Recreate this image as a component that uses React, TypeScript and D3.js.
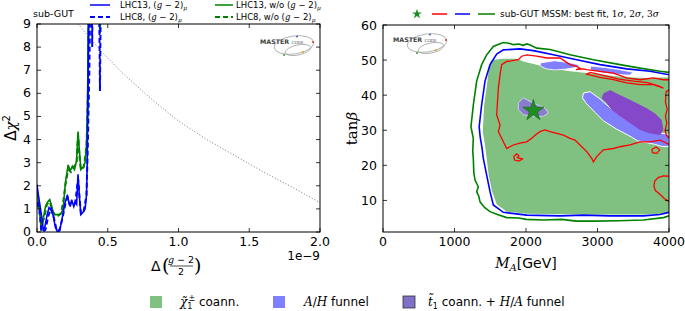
import React from 'react';
import * as d3 from 'd3';

type P = [number, number];

// ---------- Left panel data (x in units of 1e-9) ----------
const leftXTicks = [0, 0.5, 1.0, 1.5, 2.0];
const leftYTicks = [0, 1, 2, 3, 4, 5, 6, 7, 8, 9];

const lhc13G2: P[] = [[0,2.05],[0.01,1.6],[0.02,1.2],[0.035,0.6],[0.045,0.05],[0.055,0.2],[0.07,0.7],[0.085,1.05],[0.1,0.95],[0.115,0.7],[0.13,0.2],[0.145,0.0],[0.16,0.05],[0.175,0.5],[0.19,1.0],[0.2,1.3],[0.215,1.6],[0.225,1.3],[0.235,1.1],[0.245,1.4],[0.26,1.1],[0.27,1.3],[0.28,1.2],[0.29,2.5],[0.3,1.5],[0.31,0.75],[0.325,0.85],[0.34,1.0],[0.35,1.6],[0.355,3],[0.36,6],[0.365,9.6]];
const lhc8G2: P[] = [[0,1.3],[0.015,1.1],[0.03,0.1],[0.04,0.0],[0.06,0.1],[0.08,0.7],[0.1,1.0],[0.12,0.6],[0.14,0.05],[0.16,0.1],[0.18,0.6],[0.2,1.2],[0.215,1.5],[0.23,1.2],[0.25,1.3],[0.27,1.25],[0.29,2.3],[0.31,0.8],[0.33,0.9],[0.35,1.6],[0.36,4],[0.37,7],[0.375,9.6],[0.388,9.6],[0.39,8.0],[0.392,9.6],[0.44,9.6],[0.445,6.1],[0.45,9.6]];
const lhc13NoG2: P[] = [[0,1.8],[0.01,1.3],[0.02,0.9],[0.03,0.05],[0.045,0.6],[0.06,1.1],[0.075,1.3],[0.09,1.4],[0.1,1.2],[0.115,0.85],[0.13,0.75],[0.15,0.75],[0.17,0.8],[0.185,1.0],[0.2,2.1],[0.21,2.5],[0.22,2.9],[0.235,2.65],[0.25,2.85],[0.265,2.7],[0.28,3.1],[0.29,4.35],[0.3,3.5],[0.31,2.7],[0.325,2.8],[0.34,3.0],[0.35,3.8],[0.355,5],[0.36,7],[0.363,9.6]];
const lhc8NoG2: P[] = [[0,1.2],[0.015,1.0],[0.03,0.3],[0.05,0.6],[0.07,1.2],[0.09,1.3],[0.11,0.9],[0.13,0.7],[0.15,0.7],[0.17,0.8],[0.19,1.5],[0.2,2.0],[0.22,2.7],[0.24,2.6],[0.26,2.8],[0.28,3.0],[0.29,4.2],[0.3,3.3],[0.31,2.7],[0.33,2.8],[0.35,3.7],[0.36,6],[0.365,9.6],[0.44,9.6],[0.445,8.6],[0.45,9.6]];
const dottedRef: P[] = [[0.29,9.0],[0.45,7.85],[0.6,6.9],[0.8,5.8],[1.0,4.8],[1.2,4.0],[1.4,3.3],[1.6,2.6],[1.8,1.95],[2.0,1.27]];

// ---------- Right panel data (M_A [GeV], tan beta) ----------
const rightXTicks = [0, 1000, 2000, 3000, 4000];
const rightYTicks = [10, 20, 30, 40, 50, 60];

const greenFill: P[] = [[1500,49.3],[1543,50.1],[1683,50.4],[1870,50.4],[1963,49.6],[2150,48.7],[2336,47.7],[2616,46.8],[2849,46.3],[3129,45.7],[3408,45.1],[3688,44.9],[4000,45.1],[4000,6.5],[3922,6.2],[3640,6.0],[2942,6.0],[2010,6.2],[1730,6.8],[1590,8.9],[1525,12.6],[1478,17.2],[1450,22],[1420,26.7],[1395,29.5],[1415,37.3],[1460,44],[1480,47.5]];
const ahTopA: P[] = [[2200,49.2],[2400,49.8],[2600,49.3],[2750,48.6],[2700,47.9],[2550,47.4],[2400,47.2],[2280,47.5],[2200,48.3]];
const ahTopB: P[] = [[2900,48.3],[3100,47.9],[3300,47.3],[3500,46.5],[3450,45.7],[3250,45.9],[3050,46.4],[2900,47.2]];
const ahBand: P[] = [[2803,40.6],[2896,41.0],[3036,38.9],[3176,36.4],[3362,33.4],[3549,31.4],[3689,30.0],[3829,29.4],[3945,29.0],[4000,28.8],[4000,25.3],[3900,25.4],[3800,26.0],[3700,26.4],[3560,27.0],[3455,28.3],[3269,30.3],[3082,32.7],[2966,35.1],[2849,37.5],[2790,39.2]];
const stopBig: P[] = [[3082,40.5],[3176,41.5],[3269,40.5],[3409,39.1],[3549,37.7],[3689,36.25],[3805,34.8],[3898,32.9],[3922,30.1],[3875,28.65],[3736,29.1],[3596,30.1],[3456,32],[3316,33.9],[3199,35.8],[3129,37.7],[3059,39.1]];
const stopStar: P[] = [[1893,37.8],[1963,39.2],[2010,38.7],[2150,37.3],[2266,36.3],[2313,34.9],[2243,34],[2103,34],[1963,34.4],[1893,35.9]];
const bestFit: P = [2103, 35.6];

const sigma3: P[] = [[4000,46.5],[3875,46.8],[3595,47.7],[3315,48.7],[2942,50.1],[2616,51.5],[2336,53],[2150,53.4],[2060,54.3],[2010,54.6],[1960,54.2],[1900,54.6],[1823,54.4],[1760,54.8],[1683,55.0],[1620,54.5],[1543,53.9],[1450,51.5],[1380,48.7],[1310,44],[1264,37.3],[1230,31],[1263,27.7],[1255,24],[1263,22],[1270,18],[1287,15.8],[1333,13.9],[1310,12.5],[1340,11.2],[1357,9.6],[1420,8],[1497,6.8],[1600,6.0],[1730,5.1],[1900,5.0],[2000,4.6],[2243,4.4],[2500,4.6],[2700,4.1],[2942,4.1],[3300,4.2],[3640,4.4],[3922,5.1],[4000,5.6]];
const sigma2: P[] = [[4000,45.8],[3735,46.8],[3408,47.5],[3035,48.7],[2709,50.1],[2383,51.5],[2103,52.7],[1916,53.2],[1683,52.9],[1590,51.7],[1497,48.7],[1427,44],[1380,37.3],[1345,31],[1360,28],[1385,25],[1403,22],[1450,17.2],[1497,12.5],[1543,8.7],[1683,6.6],[2010,5.8],[2476,5.6],[2800,5.8],[3175,5.6],[3640,5.6],[3875,6.0],[4000,6.6]];
const sigma1Main: P[] = [[4000,26.0],[3968,26.3],[3875,27.2],[3735,26.7],[3595,26.7],[3455,25.8],[3315,25.3],[3222,24.8],[3082,24.4],[2989,22.5],[2942,21.0],[2919,22],[2849,23.9],[2755,25.8],[2686,27.2],[2616,27.7],[2523,28.6],[2430,29.1],[2336,29.6],[2266,30.1],[2196,29.6],[2126,28.6],[2080,27.7],[2010,26.7],[1916,26.3],[1823,25.8],[1730,24.8],[1683,26.7],[1613,29.6],[1637,31.5],[1590,34.4],[1613,42],[1637,45.8],[1660,48.7],[1730,49.6],[1893,50.1],[1940,51.1],[2010,51.5],[2150,51.1],[2290,50.6],[2476,50.6],[2616,48.7],[2709,48.2],[2760,47.6],[2700,47.3],[2800,47.5],[2849,47.3],[3035,46.8],[3222,46.3],[3408,44.9],[3595,44.4],[3782,44.9],[3922,44.4],[4000,44.4]];
const sigma1Hole: P[] = [[2849,46.0],[3035,45.1],[3222,44.4],[3408,43.5],[3595,43.0],[3782,43.0],[3922,42.0],[3860,42.6],[3700,43.6],[3500,44.0],[3300,44.6],[3100,45.6],[2900,46.5]];
const sigma1Edge: P[] = [[4000,41.5],[3960,41],[3950,38],[3975,36],[3950,34],[3970,32],[3945,30],[3965,28.5],[4000,27.8]];
const sigma1Island: P[] = [[1830,22.5],[1870,23.3],[1900,22.8],[1880,22.2],[1950,21.8],[1900,21.2],[1840,21.5]];
const sigma1Loop: P[] = [[3760,24.5],[3820,25.2],[3870,24.4],[3830,23.4],[3770,23.6]];
const sigma1Low: P[] = [[4000,16.9],[3920,17.0],[3850,16.5],[3800,15.5],[3790,14],[3810,12.8],[3870,11.8],[3930,10.6],[4000,9.6]];

// ---------- layout ----------
const LX0 = 37, LX1 = 320, LY0 = 24, LY1 = 232;
const RX0 = 383, RX1 = 669, RY0 = 25, RY1 = 232;

const lx = d3.scaleLinear().domain([0, 2]).range([LX0, LX1]);
const ly = d3.scaleLinear().domain([0, 9]).range([LY1, LY0]);
const rx = d3.scaleLinear().domain([0, 4000]).range([RX0, RX1]);
const ry = d3.scaleLinear().domain([1, 60]).range([RY1, RY0]);

const lLine = d3.line<P>().x(d => lx(d[0])).y(d => ly(d[1]));
const rLine = d3.line<P>().x(d => rx(d[0])).y(d => ry(d[1]));
const rPoly = d3.line<P>().x(d => rx(d[0])).y(d => ry(d[1])).curve(d3.curveLinearClosed);

const SANS = "'DejaVu Sans', sans-serif";
const SERIF = "'DejaVu Serif', serif";

const GREEN_FILL = '#80c080';
const AH_FILL = '#8080ff';
const STOP_FILL = '#8448c8';
const STAR_BLOB = '#8a7ccc';

function Logo({ x, y }: { x: number; y: number }) {
  return (
    <g transform={`translate(${x},${y})`}>
      <ellipse cx={34} cy={8} rx={20} ry={9} fill="none" stroke="#888" strokeWidth={0.6} transform="rotate(-8 34 8)" />
      <ellipse cx={38} cy={13} rx={13} ry={5} fill="none" stroke="#888" strokeWidth={0.6} transform="rotate(-12 38 13)" />
      <text x={0} y={7} fontFamily={SANS} fontSize={6.3} fontWeight="bold" fill="#444">MASTER</text>
      <text x={31.5} y={7} fontFamily={SANS} fontSize={4.2} fill="#555">CODE</text>
      <circle cx={37} cy={-0.5} r={1} fill="#3a5fcd" />
      <circle cx={53} cy={5} r={1} fill="#e03030" />
      <circle cx={43} cy={15} r={1.1} fill="#f0a020" />
      <circle cx={24} cy={18} r={1} fill="#30a030" />
    </g>
  );
}

function Frame({ x0, x1, y0, y1, xt, yt, xs, ys }: any) {
  return (
    <g>
      <rect x={x0} y={y0} width={x1 - x0} height={y1 - y0} fill="none" stroke="#000" strokeWidth={1} />
      {xt.map((t: number, i: number) => (
        <g key={'x' + i}>
          <line x1={xs(t)} x2={xs(t)} y1={y1} y2={y1 - 4} stroke="#000" strokeWidth={0.8} />
          <line x1={xs(t)} x2={xs(t)} y1={y0} y2={y0 + 4} stroke="#000" strokeWidth={0.8} />
        </g>
      ))}
      {yt.map((t: number, i: number) => (
        <g key={'y' + i}>
          <line x1={x0} x2={x0 + 4} y1={ys(t)} y2={ys(t)} stroke="#000" strokeWidth={0.8} />
          <line x1={x1} x2={x1 - 4} y1={ys(t)} y2={ys(t)} stroke="#000" strokeWidth={0.8} />
        </g>
      ))}
    </g>
  );
}

function G2({ size }: { size: number }) {
  return (
    <tspan>
      (<tspan fontFamily={SERIF} fontStyle="italic">g</tspan> − 2)
      <tspan fontFamily={SERIF} fontStyle="italic" fontSize={size * 0.7} dy={2}>μ</tspan>
    </tspan>
  );
}

export default function App() {
  const star = d3.symbol().type(d3.symbolStar);
  return (
    <svg width={685} height={311} style={{ position: 'absolute', left: 0, top: 0, background: '#fff' }} fontFamily={SANS}>
      <defs>
        <clipPath id="clipL"><rect x={LX0} y={LY0} width={LX1 - LX0} height={LY1 - LY0} /></clipPath>
        <clipPath id="clipR"><rect x={RX0} y={RY0} width={RX1 - RX0} height={RY1 - RY0} /></clipPath>
      </defs>
      <rect x={0} y={0} width={685} height={311} fill="#fff" />

      {/* ---------------- Left panel ---------------- */}
      <g clipPath="url(#clipL)">
        <path d={lLine(dottedRef) || ''} fill="none" stroke="#777" strokeWidth={1} strokeDasharray="1,2" />
        <path d={lLine(lhc8NoG2) || ''} fill="none" stroke="#008000" strokeWidth={2} strokeDasharray="5,3" />
        <path d={lLine(lhc13NoG2) || ''} fill="none" stroke="#008000" strokeWidth={1.6} />
        <path d={lLine(lhc8G2) || ''} fill="none" stroke="#0000ff" strokeWidth={2} strokeDasharray="5,3" />
        <path d={lLine(lhc13G2) || ''} fill="none" stroke="#0000ff" strokeWidth={1.6} />
      </g>
      <Logo x={260} y={37} />
      <Frame x0={LX0} x1={LX1} y0={LY0} y1={LY1} xt={leftXTicks} yt={leftYTicks} xs={lx} ys={ly} />
      {leftYTicks.map(t => (
        <text key={t} x={31} y={ly(t) + 4} textAnchor="end" fontSize={12.5}>{t}</text>
      ))}
      {leftXTicks.map(t => (
        <text key={t} x={lx(t)} y={246} textAnchor="middle" fontSize={12.5}>{t.toFixed(1)}</text>
      ))}
      <text x={320} y={260} textAnchor="end" fontSize={12}>1e−9</text>
      <text transform={`translate(16,${(LY0 + LY1) / 2}) rotate(-90)`} textAnchor="middle" fontSize={15} fontFamily={SANS}>
        Δ<tspan fontFamily={SERIF} fontStyle="italic">χ</tspan><tspan fontSize={10} dy={-6}>2</tspan>
      </text>
      {/* x label Δ((g-2)/2) */}
      <text x={151} y={271} fontSize={14}>Δ</text>
      <text x={162} y={272} fontSize={19} fontFamily={SERIF}>(</text>
      <text x={181} y={263} fontSize={9.5} textAnchor="middle"><tspan fontFamily={SERIF} fontStyle="italic">g</tspan> − 2</text>
      <line x1={170} x2={193} y1={266} y2={266} stroke="#000" strokeWidth={0.7} />
      <text x={181} y={275} fontSize={9.5} textAnchor="middle">2</text>
      <text x={194} y={272} fontSize={19} fontFamily={SERIF}>)</text>

      {/* left legend */}
      <text x={33} y={17} fontSize={9.5}>sub-GUT</text>
      <line x1={90} x2={110} y1={5} y2={5} stroke="#0000ff" strokeWidth={1.5} />
      <text x={120} y={8} fontSize={8.5}>LHC13, <G2 size={8.5} /></text>
      <line x1={90} x2={110} y1={17} y2={17} stroke="#0000ff" strokeWidth={2} strokeDasharray="5,3" />
      <text x={120} y={20} fontSize={8.5}>LHC8, <G2 size={8.5} /></text>
      <line x1={215} x2={233} y1={5} y2={5} stroke="#008000" strokeWidth={1.5} />
      <text x={236} y={8} fontSize={8.5}>LHC13, w/o <G2 size={8.5} /></text>
      <line x1={215} x2={233} y1={17} y2={17} stroke="#008000" strokeWidth={2} strokeDasharray="5,3" />
      <text x={236} y={20} fontSize={8.5}>LHC8, w/o <G2 size={8.5} /></text>

      {/* ---------------- Right panel ---------------- */}
      <g clipPath="url(#clipR)">
        <path d={rPoly(greenFill) || ''} fill={GREEN_FILL} stroke="none" />
        <path d={rPoly(ahTopA) || ''} fill={AH_FILL} stroke="#ffffff" strokeWidth={0.8} />
        <path d={rPoly(ahTopB) || ''} fill={AH_FILL} stroke="#ffffff" strokeWidth={0.8} />
        <path d={rPoly(ahBand) || ''} fill={AH_FILL} stroke="#ffffff" strokeWidth={1} />
        <path d={rPoly(stopBig) || ''} fill={STOP_FILL} stroke="none" />
        <path d={rPoly(stopStar) || ''} fill={STAR_BLOB} stroke="#d0d0f4" strokeWidth={1} />
        <path d={rLine(sigma3) || ''} fill="none" stroke="#008000" strokeWidth={1.6} />
        <path d={rLine(sigma2) || ''} fill="none" stroke="#0000ff" strokeWidth={1.6} />
        <path d={rLine(sigma1Main) || ''} fill="none" stroke="#ff0000" strokeWidth={1.3} />
        <path d={rPoly(sigma1Hole) || ''} fill="none" stroke="#ff0000" strokeWidth={1.3} />
        <path d={rLine(sigma1Edge) || ''} fill="none" stroke="#ff0000" strokeWidth={1.3} />
        <path d={rPoly(sigma1Island) || ''} fill="none" stroke="#ff0000" strokeWidth={1.3} />
        <path d={rPoly(sigma1Loop) || ''} fill="none" stroke="#ff0000" strokeWidth={1.2} />
        <path d={rLine(sigma1Low) || ''} fill="none" stroke="#ff0000" strokeWidth={1.3} />
        <path d={star.size(140)() || ''} transform={`translate(${rx(bestFit[0])},${ry(bestFit[1])})`} fill="#1e8c1e" stroke="#0a5a0a" strokeWidth={0.5} />
      </g>
      <Logo x={393} y={35} />
      <Frame x0={RX0} x1={RX1} y0={RY0} y1={RY1} xt={rightXTicks} yt={rightYTicks} xs={rx} ys={ry} />
      {rightYTicks.map(t => (
        <text key={t} x={377} y={ry(t) + 4.5} textAnchor="end" fontSize={12.5}>{t}</text>
      ))}
      {rightXTicks.map(t => (
        <text key={t} x={rx(t)} y={246} textAnchor="middle" fontSize={12.5}>{t}</text>
      ))}
      <text transform={`translate(357,${(RY0 + RY1) / 2}) rotate(-90)`} textAnchor="middle" fontSize={15} fontFamily={SERIF}>
        tan<tspan fontStyle="italic">β</tspan>
      </text>
      <text x={526} y={268} textAnchor="middle" fontSize={14}>
        <tspan fontFamily={SERIF} fontStyle="italic">M</tspan><tspan fontFamily={SERIF} fontStyle="italic" fontSize={10} dy={3}>A</tspan><tspan dy={-3}>[GeV]</tspan>
      </text>

      {/* right legend */}
      <path d={star.size(30)() || ''} transform="translate(417,14)" fill="#1e8c1e" />
      <line x1={432} x2={447} y1={14} y2={14} stroke="#ff0000" strokeWidth={1.5} />
      <line x1={455} x2={470} y1={14} y2={14} stroke="#0000ff" strokeWidth={1.5} />
      <line x1={478} x2={495} y1={14} y2={14} stroke="#008000" strokeWidth={1.5} />
      <text x={500} y={17} fontSize={9}>
        sub-GUT MSSM: best fit, <tspan fontFamily={SERIF}>1</tspan><tspan fontFamily={SERIF} fontStyle="italic">σ</tspan>, <tspan fontFamily={SERIF}>2</tspan><tspan fontFamily={SERIF} fontStyle="italic">σ</tspan>, <tspan fontFamily={SERIF}>3</tspan><tspan fontFamily={SERIF} fontStyle="italic">σ</tspan>
      </text>

      {/* bottom legend */}
      <rect x={150} y={296} width={12} height={12} fill={GREEN_FILL} />
      <text x={180} y={306} fontSize={12}>
        <tspan fontFamily={SERIF} fontStyle="italic">χ̃</tspan><tspan fontSize={8} dy={3}>1</tspan><tspan fontSize={8} dx={-4} dy={-8}>±</tspan><tspan dy={5}> coann.</tspan>
      </text>
      <rect x={273} y={296} width={12} height={12} fill={AH_FILL} />
      <text x={304} y={306} fontSize={12}>
        <tspan fontFamily={SERIF} fontStyle="italic">A</tspan>/<tspan fontFamily={SERIF} fontStyle="italic">H</tspan> funnel
      </text>
      <rect x={403} y={296} width={12} height={12} fill="#8070c8" stroke="#333" strokeWidth={0.8} />
      <text x={428} y={306} fontSize={12}>
        <tspan fontFamily={SERIF} fontStyle="italic">t̃</tspan><tspan fontSize={8} dy={3}>1</tspan><tspan dy={-3}> coann. + </tspan><tspan fontFamily={SERIF} fontStyle="italic">H</tspan>/<tspan fontFamily={SERIF} fontStyle="italic">A</tspan> funnel
      </text>
    </svg>
  );
}
